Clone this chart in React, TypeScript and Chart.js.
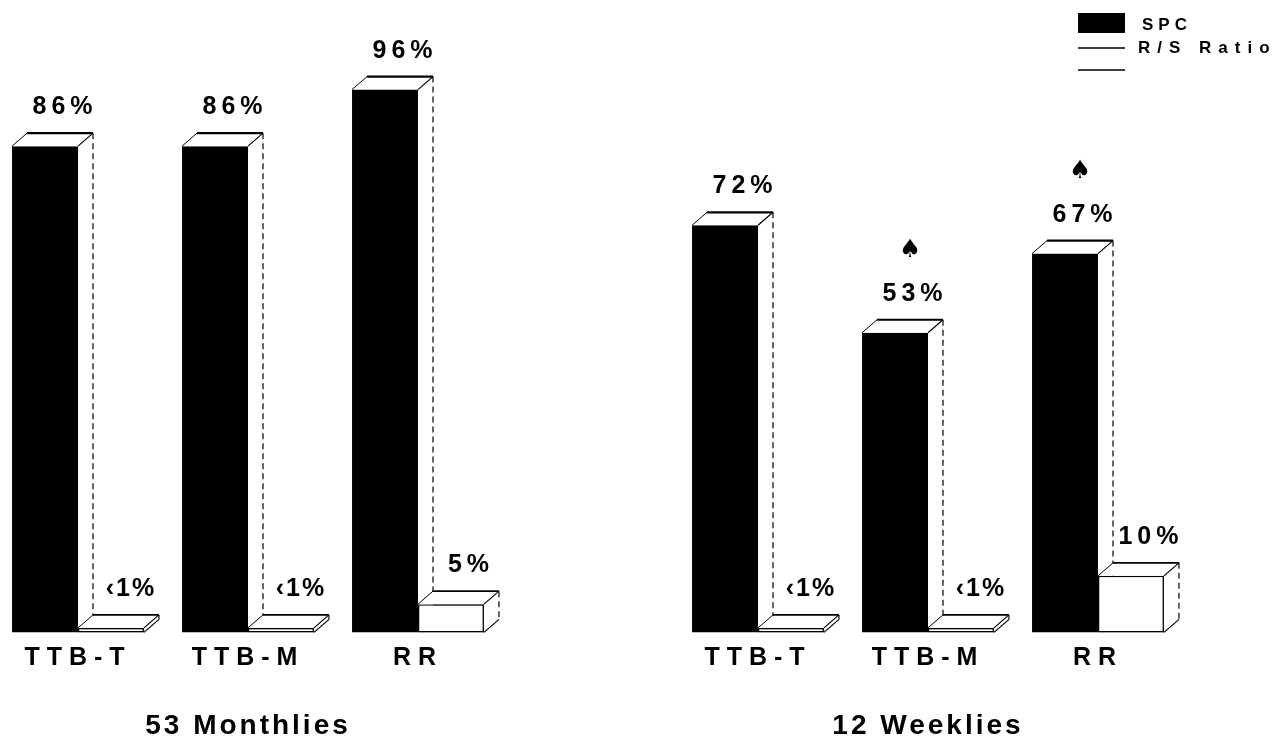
import React, { useEffect, useRef } from 'react';
import { Chart, registerables, CategoryScale } from 'chart.js';

Chart.register(...registerables);

// ---- data ----
const categories = ['TTB-T', 'TTB-M', 'RR', '', 'TTB-T', 'TTB-M', 'RR'];
const groupTitles = ['', '53 Monthlies', '', '', '', '12 Weeklies', ''];
const seriesNames = ['SPC', 'R/S Ratio'];
const spcValues: (number | null)[] = [86, 86, 96, null, 72, 53, 67];
const rsValues: (number | null)[] = [0.8, 0.8, 5, null, 0.8, 0.8, 10];
const spcLabels = ['86%', '86%', '96%', '', '72%', '53%', '67%'];
const rsLabels = ['‹1%', '‹1%', '5%', '', '‹1%', '‹1%', '10%'];
const spadeMarks = [false, false, false, false, false, true, true];

const FONT = '"Liberation Sans", Arial, Helvetica, sans-serif';
const DX = 15;
const DY = -13;
const SHIFT = 20; // canvas is shifted left by this many px on the page
const CANVAS_H = 771; // taller than the page; the bottom is clipped

class SpacedCategoryScale extends CategoryScale {
  static id = 'spacedCategory';
  static defaults = CategoryScale.defaults;
  drawLabels(chartArea: any) {
    const ctx: any = this.ctx;
    ctx.save();
    const ls = (this.options as any).letterSpacing || (this.id === 'x' ? '7px' : '3px');
    ctx.letterSpacing = ls;
    // @ts-ignore
    super.drawLabels(chartArea);
    ctx.restore();
  }
}
Chart.register(SpacedCategoryScale as any);

function poly(ctx: CanvasRenderingContext2D, pts: number[][]) {
  ctx.beginPath();
  ctx.moveTo(pts[0][0], pts[0][1]);
  for (let i = 1; i < pts.length; i++) ctx.lineTo(pts[i][0], pts[i][1]);
  ctx.closePath();
}
function line(ctx: CanvasRenderingContext2D, x1: number, y1: number, x2: number, y2: number, w: number, dash: number[] = []) {
  ctx.save();
  ctx.lineWidth = w;
  ctx.setLineDash(dash);
  ctx.beginPath();
  ctx.moveTo(x1, y1);
  ctx.lineTo(x2, y2);
  ctx.stroke();
  ctx.restore();
}

function drawFaces(ctx: CanvasRenderingContext2D, l: number, r: number, t: number, b: number, front: boolean) {
  ctx.save();
  ctx.fillStyle = '#fff';
  ctx.strokeStyle = '#000';
  poly(ctx, [[l, t], [l + DX, t + DY], [r + DX, t + DY], [r, t]]);
  ctx.fill();
  poly(ctx, [[r, t], [r + DX, t + DY], [r + DX, b + DY], [r, b]]);
  ctx.fill();
  line(ctx, l, t, l + DX, t + DY, 1);
  line(ctx, l + DX, t + DY, r + DX, t + DY, front ? 1.6 : 2.2);
  line(ctx, r + DX, t + DY, r, t, 1.2);
  line(ctx, r + DX, t + DY, r + DX, b + DY, 1.2, [6, 4]);
  if (front) line(ctx, r, b, r + DX, b + DY, 1.2);
  ctx.restore();
}

const box3dPlugin = {
  id: 'box3d',
  afterDatasetsDraw(chart: any) {
    const ctx = chart.ctx as CanvasRenderingContext2D;
    const m0 = chart.getDatasetMeta(0);
    const m1 = chart.getDatasetMeta(1);
    for (let i = 0; i < categories.length; i++) {
      if (spcValues[i] == null) continue;
      const a = m0.data[i].getProps(['x', 'y', 'base', 'width'], true);
      drawFaces(ctx, a.x - a.width / 2, a.x + a.width / 2, a.y, a.base, false);
      m1.data[i].draw(ctx);
      const b = m1.data[i].getProps(['x', 'y', 'base', 'width'], true);
      drawFaces(ctx, b.x - b.width / 2, b.x + b.width / 2, b.y, b.base, true);
    }
  },
};

const labelPlugin = {
  id: 'valueLabels',
  afterDatasetsDraw(chart: any) {
    const ctx: any = chart.ctx;
    const sets = [spcLabels, rsLabels];
    ctx.save();
    ctx.fillStyle = '#000';
    ctx.textAlign = 'center';
    ctx.textBaseline = 'alphabetic';
    for (let d = 0; d < 2; d++) {
      const meta = chart.getDatasetMeta(d);
      for (let i = 0; i < categories.length; i++) {
        const txt = sets[d][i];
        if (!txt) continue;
        const p = meta.data[i].getProps(['x', 'y'], true);
        const cx = p.x + 18;
        const by = p.y - 32;
        ctx.font = 'bold 25px ' + FONT;
        ctx.letterSpacing = txt.startsWith('‹') ? '2px' : '5px';
        ctx.fillText(txt, cx + 2, by);
        if (d === 0 && spadeMarks[i]) {
          ctx.letterSpacing = '0px';
          ctx.font = '25px "DejaVu Sans", sans-serif';
          ctx.fillText('\u2660', cx - 3, by - 44);
        }
      }
    }
    ctx.restore();
  },
};

const legendPlugin = {
  id: 'manualLegend',
  afterDraw(chart: any) {
    const ctx: any = chart.ctx;
    const ds = chart.data.datasets;
    ctx.save();
    const x0 = 1078 + SHIFT;
    const w = 47;
    // SPC
    ctx.fillStyle = ds[0].backgroundColor;
    ctx.fillRect(x0, 13, w, 20);
    // R/S Ratio
    ctx.fillStyle = ds[1].backgroundColor;
    ctx.fillRect(x0, 48, w, 22);
    ctx.strokeStyle = '#000';
    line(ctx, x0, 48, x0 + w, 48, 1.5);
    line(ctx, x0, 70, x0 + w, 70, 1.5);
    ctx.fillStyle = '#000';
    ctx.textAlign = 'left';
    ctx.textBaseline = 'alphabetic';
    ctx.font = 'bold 17px ' + FONT;
    ctx.letterSpacing = '5px';
    ctx.fillText(ds[0].label, 1142 + SHIFT, 30);
    ctx.letterSpacing = '7px';
    ctx.fillText(ds[1].label, 1138 + SHIFT, 53);
    ctx.restore();
  },
};

export default function App() {
  const ref = useRef<HTMLCanvasElement>(null);
  useEffect(() => {
    if (!ref.current) return;
    const chart = new Chart(ref.current, {
      type: 'bar',
      data: {
        labels: categories,
        datasets: [
          {
            label: seriesNames[0],
            data: spcValues as any,
            backgroundColor: '#000',
            borderColor: '#000',
            borderWidth: 0,
            barPercentage: 1,
            categoryPercentage: 0.776,
          },
          {
            label: seriesNames[1],
            data: rsValues as any,
            backgroundColor: '#fff',
            borderColor: '#000',
            borderWidth: 1.5,
            borderSkipped: false,
            barPercentage: 1,
            categoryPercentage: 0.776,
          },
        ],
      },
      options: {
        responsive: false,
        animation: false,
        events: [],
        layout: { padding: { left: 13, right: 95, top: 67, bottom: 3 } },
        plugins: { legend: { display: false }, tooltip: { enabled: false } },
        scales: {
          y: { display: false, min: 0, max: 100 },
          x: {
            type: 'spacedCategory' as any,
            position: 'bottom',
            weight: 0,
            offset: true,
            labels: categories,
            grid: { display: false, drawTicks: false },
            border: { display: false },
            ticks: {
              color: '#000',
              padding: 11,
              maxRotation: 0,
              autoSkip: false,
              font: { family: FONT, size: 25, weight: 'bold' },
            },
            letterSpacing: '7px',
          } as any,
          x2: {
            type: 'spacedCategory' as any,
            position: 'bottom',
            weight: 1,
            offset: true,
            labels: groupTitles,
            grid: { display: false, drawTicks: false },
            border: { display: false },
            ticks: {
              color: '#000',
              padding: 25,
              maxRotation: 0,
              autoSkip: false,
              font: { family: FONT, size: 28, weight: 'bold' },
            },
            letterSpacing: '3px',
          } as any,
        },
      },
      plugins: [box3dPlugin, labelPlugin, legendPlugin],
    });
    return () => chart.destroy();
  }, []);
  return (
    <div style={{ position: 'fixed', left: -SHIFT, top: 0, width: 1278 + SHIFT, height: 746, overflow: 'hidden', background: '#fff' }}>
      <canvas ref={ref} width={1278 + SHIFT} height={CANVAS_H} style={{ display: 'block' }} />
    </div>
  );
}
